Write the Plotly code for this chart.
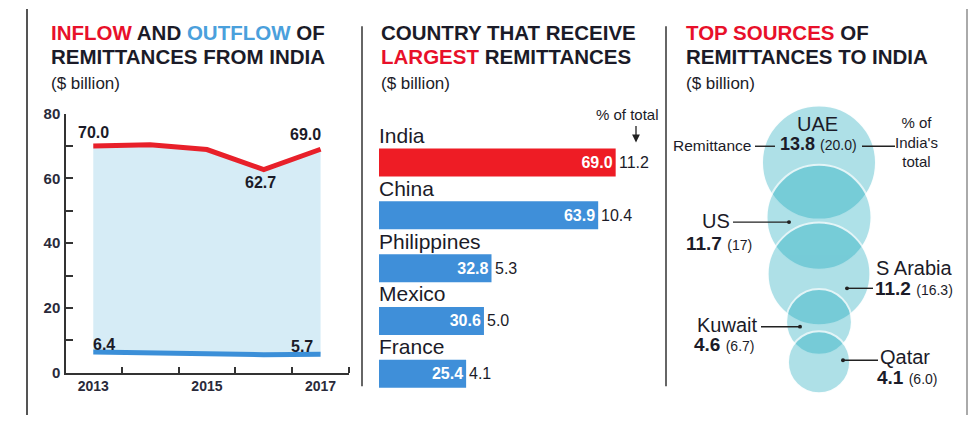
import plotly.graph_objects as go

W, H = 972, 423

# ---------------- data ----------------
years = [2013, 2014, 2015, 2016, 2017]
inflow = [70.0, 70.4, 68.9, 62.7, 69.0]
outflow = [6.4, 6.1, 5.6, 5.6, 5.7]

countries = ["India", "China", "Philippines", "Mexico", "France"]
received = [69.0, 63.9, 32.8, 30.6, 25.4]
share_of_total = [11.2, 10.4, 5.3, 5.0, 4.1]

sources = ["UAE", "US", "S Arabia", "Kuwait", "Qatar"]
source_values = [13.8, 11.7, 11.2, 4.6, 4.1]
source_share = ["20.0", "17", "16.3", "6.7", "6.0"]

# ---------------- styling / layout helpers ----------------
FONT = "Liberation Sans, Arial, sans-serif"
DARK = "#1b1b28"
RED = "#e8102a"
BLUE_T = "#4aa0dc"
LINE_RED = "#e8202a"
LINE_BLUE = "#3b8fd8"
BAR_BLUE = "#3f8fd9"
FILL = "#d6ecf6"


def px(x):
    return x / W


def py(y):
    return 1 - y / H


annotations = []
shapes = []


def text(t, x, y, size=14, color=DARK, xanchor="left", yanchor="middle", align="left"):
    annotations.append(dict(text=t, x=px(x), y=py(y), xref="paper", yref="paper",
                            showarrow=False, xanchor=xanchor, yanchor=yanchor, align=align,
                            font=dict(family=FONT, size=size, color=color)))


def hline(x0, x1, y, color="#222", width=1.4):
    shapes.append(dict(type="line", xref="paper", yref="paper", x0=px(x0), x1=px(x1),
                       y0=py(y), y1=py(y), line=dict(color=color, width=width)))


def vline(x, y0, y1, color="#444", width=2):
    shapes.append(dict(type="line", xref="paper", yref="paper", x0=px(x), x1=px(x),
                       y0=py(y0), y1=py(y1), line=dict(color=color, width=width)))


def dot(x, y, r=2, color="#222"):
    shapes.append(dict(type="circle", xref="paper", yref="paper", x0=px(x - r), x1=px(x + r),
                       y0=py(y + r), y1=py(y - r), fillcolor=color, line=dict(width=0)))


fig = go.Figure()

# ---------------- panel 1: line chart ----------------
fig.add_trace(go.Scatter(x=years, y=outflow, mode="lines", line=dict(width=0, color=LINE_BLUE),
                         hoverinfo="skip", showlegend=False, xaxis="x", yaxis="y"))
fig.add_trace(go.Scatter(x=years, y=inflow, mode="lines", fill="tonexty", fillcolor=FILL,
                         line=dict(width=5, color=LINE_RED), showlegend=False, xaxis="x", yaxis="y"))
fig.add_trace(go.Scatter(x=years, y=outflow, mode="lines",
                         line=dict(width=5, color=LINE_BLUE), showlegend=False, xaxis="x", yaxis="y"))

lab_font = dict(family=FONT, size=16, color=DARK)


def data_label(xv, yv, t, xanchor, xshift, yshift):
    annotations.append(dict(text="<b>%s</b>" % t, x=xv, y=yv, xref="x", yref="y", showarrow=False,
                            xanchor=xanchor, yanchor="middle", xshift=xshift, yshift=yshift,
                            font=lab_font))


data_label(years[0], inflow[0], "%.1f" % inflow[0], "center", 0, 14)
data_label(years[-1], inflow[-1], "%.1f" % inflow[-1], "right", 2, 15)
i_min = inflow.index(min(inflow))
data_label(years[i_min], inflow[i_min], "%.1f" % inflow[i_min], "center", -3, -13)
data_label(years[0], outflow[0], "%.1f" % outflow[0], "left", -2, 8)
data_label(years[-1], outflow[-1], "%.1f" % outflow[-1], "right", -6, 8)

# ---------------- panel 2: bar chart ----------------
bar_colors = ["#ee1c25"] + [BAR_BLUE] * (len(countries) - 1)
fig.add_trace(go.Bar(x=received, y=list(range(len(countries))), orientation="h",
                     marker=dict(color=bar_colors, line=dict(width=0)), width=0.53,
                     text=["<b>%.1f</b>" % v for v in received], textposition="inside",
                     insidetextanchor="end", textangle=0, constraintext="none",
                     textfont=dict(family=FONT, size=16, color="white"),
                     showlegend=False, xaxis="x2", yaxis="y2", hoverinfo="skip"))

for i, (c, v, s) in enumerate(zip(countries, received, share_of_total)):
    annotations.append(dict(text=c, x=0, y=i, xref="x2", yref="y2", showarrow=False,
                            xanchor="left", yanchor="middle", yshift=27, xshift=-2,
                            font=dict(family=FONT, size=21, color=DARK)))
    annotations.append(dict(text="%.1f" % s, x=v, y=i, xref="x2", yref="y2", showarrow=False,
                            xanchor="left", yanchor="middle", xshift=1,
                            font=dict(family=FONT, size=16, color=DARK)))

text("% of total", 627, 110, size=15, xanchor="center")
annotations.append(dict(text="", x=px(636), y=py(139), xref="paper", yref="paper",
                        ax=0, ay=-18, showarrow=True, arrowhead=2, arrowsize=1.2,
                        arrowwidth=1.3, arrowcolor="#222"))

# ---------------- panel 3: bubbles ----------------
bubble_stack = [0, 57, 116, 166, 208]  # vertical stacking offsets (layout)
max_d = 114
fig.add_trace(go.Scatter(x=[0] * len(sources), y=bubble_stack, mode="markers",
                         marker=dict(size=source_values, sizemode="area",
                                     sizeref=2 * max(source_values) / max_d ** 2,
                                     color="rgba(0,160,182,0.45)",
                                     line=dict(color="rgba(255,255,255,0.95)", width=2)),
                         showlegend=False, xaxis="x3", yaxis="y3", hoverinfo="skip"))


def val_text(v, s, small=14):
    return "<b>%s</b> <span style='font-size:%dpx'>(%s)</span>" % (v, small, s)


# UAE
text(sources[0], 817, 120, size=20, xanchor="center")
text(val_text(source_values[0], source_share[0]), 818, 141, xanchor="center", size=18)
text("Remittance", 753, 142, size=15.5, xanchor="right")
hline(755, 775, 143)
hline(862, 895, 143)
text("% of<br>India's<br>total", 916, 139, size=15, xanchor="center", align="center")
# US
text(sources[1], 732, 221, size=20, xanchor="right")
hline(733, 789, 222)
dot(789, 222)
text(val_text(source_values[1], source_share[1]), 684, 244, size=19)
# S Arabia
text(sources[2], 874, 270, size=20)
hline(847, 873, 291)
dot(847, 291)
text(val_text(source_values[2], source_share[2]), 873, 291, size=19)
# Kuwait
text(sources[3], 759, 329, size=20, xanchor="right")
hline(761, 800, 331)
dot(800, 331)
text(val_text(source_values[3], source_share[3]), 692, 350, size=19)
# Qatar
text(sources[4], 878, 363, size=20)
hline(843, 878, 366)
dot(843, 366)
text(val_text(source_values[4], source_share[4]), 875, 384, size=19)

# ---------------- titles ----------------
TB = 20.5
Y1, Y2, Y3 = 24, 49, 78
text("<b><span style='color:%s'>INFLOW</span> AND <span style='color:%s'>OUTFLOW</span> OF</b>"
     % (RED, BLUE_T), 49, Y1, size=TB)
text("<b>REMITTANCES FROM INDIA</b>", 49, Y2, size=TB)
text("($ billion)", 49, Y3, size=17)

text("<b>COUNTRY THAT RECEIVE</b>", 379, Y1, size=TB)
text("<b><span style='color:%s'>LARGEST</span> REMITTANCES</b>" % RED, 379, Y2, size=TB)
text("($ billion)", 379, Y3, size=17)

text("<b><span style='color:%s'>TOP SOURCES</span> OF</b>" % RED, 684, Y1, size=TB)
text("<b>REMITTANCES TO INDIA</b>", 684, Y2, size=TB)
text("($ billion)", 684, Y3, size=17)

# ---------------- frame ----------------
vline(27, 0, 423, color="#555", width=2)
vline(967, 0, 423, color="#aaa", width=2)
vline(362, 18, 393, color="#333", width=1.5)
vline(666, 18, 393, color="#333", width=1.5)

tickfont = dict(family=FONT, size=15, color="#2a2a3a", weight="bold")
fig.update_layout(
    width=W, height=H, margin=dict(l=0, r=0, t=0, b=0),
    paper_bgcolor="white", plot_bgcolor="rgba(0,0,0,0)",
    font=dict(family=FONT, color=DARK),
    showlegend=False,
    xaxis=dict(domain=[px(66), px(349)], range=[2012.52, 2017.5], tickvals=[2013, 2015, 2017],
               ticks="", showgrid=False, zeroline=False, showline=True, linecolor="#333",
               linewidth=1.5, tickfont=dict(family=FONT, size=14, color="#2a2a3a", weight="bold"),
               minor=dict(tickvals=[2013.5, 2014.5, 2015.5, 2016.5, 2017.5], ticks="inside",
                          ticklen=6, tickcolor="#333", tickwidth=1.5)),
    yaxis=dict(domain=[py(379), py(109)], range=[0, 80], tickvals=[0, 20, 40, 60, 80],
               ticks="inside", ticklen=7, tickcolor="#333", tickwidth=1.5,
               showgrid=False, zeroline=False, showline=True, linecolor="#333", linewidth=1.5,
               tickfont=tickfont, ticklabelstandoff=1,
               minor=dict(tickvals=[10, 30, 50, 70], ticks="inside", ticklen=7,
                          tickcolor="#333", tickwidth=1.5)),
    xaxis2=dict(domain=[px(379), px(660)], range=[0, 281 / 3.43], visible=False, anchor="y2"),
    yaxis2=dict(domain=[py(407.5), py(132.5)], range=[4.5, -0.5], visible=False, anchor="x2"),
    xaxis3=dict(domain=[px(699), px(939)], range=[-120, 120], visible=False, anchor="y3"),
    yaxis3=dict(domain=[py(415), py(95)], range=[255, -65], visible=False, anchor="x3"),
    annotations=annotations, shapes=shapes,
)

fig.write_html("out.html", config={"displayModeBar": False},
               post_script="document.body.style.margin='0';")
